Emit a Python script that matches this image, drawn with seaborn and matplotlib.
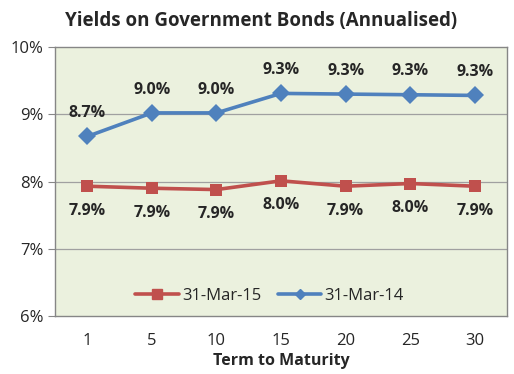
import matplotlib.pyplot as plt
import seaborn as sns
import pandas as pd
import numpy as np
from matplotlib.ticker import FuncFormatter
from matplotlib.lines import Line2D

# Data
terms = ["1", "5", "10", "15", "20", "25", "30"]
yield_mar15 = [7.93, 7.90, 7.88, 8.01, 7.93, 7.97, 7.93]
yield_mar14 = [8.67, 9.02, 9.02, 9.31, 9.30, 9.29, 9.28]
labels_mar15 = ["7.9%", "7.9%", "7.9%", "8.0%", "7.9%", "8.0%", "7.9%"]
labels_mar14 = ["8.7%", "9.0%", "9.0%", "9.3%", "9.3%", "9.3%", "9.3%"]

RED = "#C0504D"
BLUE = "#4F81BD"

df = pd.DataFrame({
    "pos": list(range(len(terms))) * 2,
    "Yield": yield_mar15 + yield_mar14,
    "Series": ["31-Mar-15"] * len(terms) + ["31-Mar-14"] * len(terms),
})

sns.set_style("white")
plt.rcParams["font.family"] = ["Open Sans", "DejaVu Sans"]

fig = plt.figure(figsize=(5.14, 3.74), dpi=100)
ax = fig.add_axes([55 / 514, 1 - 316 / 374, 452 / 514, 269 / 374])
ax.set_facecolor("#EBF1DE")

sns.lineplot(
    data=df, x="pos", y="Yield", hue="Series", style="Series",
    palette={"31-Mar-15": RED, "31-Mar-14": BLUE},
    markers={"31-Mar-15": "s", "31-Mar-14": "D"},
    dashes=False, linewidth=2.6, markersize=9, markeredgewidth=0,
    legend=False, ax=ax,
)

# data labels
for i, (v, t) in enumerate(zip(yield_mar14, labels_mar14)):
    ax.annotate(t, (i, v), xytext=(0, 11), textcoords="offset points",
                ha="center", va="bottom", fontsize=11.5, fontweight="bold")
for i, (v, t) in enumerate(zip(yield_mar15, labels_mar15)):
    ax.annotate(t, (i, v), xytext=(0, -12), textcoords="offset points",
                ha="center", va="top", fontsize=11.5, fontweight="bold")

ax.set_xlim(-0.5, len(terms) - 0.5)
ax.set_ylim(6, 10)
ax.set_yticks([6, 7, 8, 9, 10])
ax.yaxis.set_major_formatter(FuncFormatter(lambda v, p: f"{v:.0f}%"))
ax.set_xticks(range(len(terms)))
ax.set_xticklabels(terms)
ax.set_xticks(np.arange(-0.5, len(terms)), minor=True)
ax.tick_params(axis="x", which="major", length=0, labelsize=12, pad=12)
ax.tick_params(axis="x", which="minor", length=5, color="#878787", width=0.8)
ax.tick_params(axis="y", which="major", length=5, color="#878787", width=0.8,
               labelsize=12, left=True, pad=3)

for y in [7, 8, 9]:
    ax.axhline(y, color="#A0A0A0", linewidth=0.9, zorder=0)

for s in ax.spines.values():
    s.set_color("#868686")
    s.set_linewidth(1.0)

ax.set_xlabel("Term to Maturity", fontsize=11.5, fontweight="bold", labelpad=3)
ax.set_ylabel("")

fig.suptitle("Yields on Government Bonds (Annualised)", x=0.508, y=0.97,
             fontsize=13.5, fontweight="bold")

handles = [
    Line2D([], [], color=RED, marker="s", markersize=7, linewidth=2.6),
    Line2D([], [], color=BLUE, marker="D", markersize=5.5, linewidth=2.6),
]
ax.legend(handles, ["31-Mar-15", "31-Mar-14"], loc="lower center",
          bbox_to_anchor=(0.475, -0.01), ncol=2, frameon=False, fontsize=12,
          handlelength=2.6, columnspacing=1.0, handletextpad=0.2)

plt.savefig("out.png", dpi=100)
